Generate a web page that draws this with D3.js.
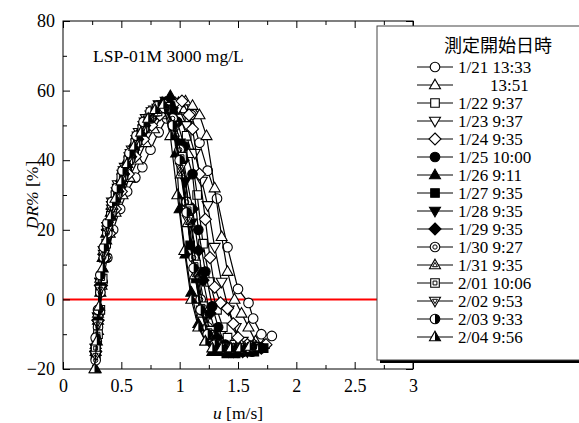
<!DOCTYPE html>
<html>
<head>
<meta charset="utf-8">
<script src="https://cdn.jsdelivr.net/npm/d3@7"></script>
<style>
  body { margin: 0; background: #fff; }
  text { font-family: "Liberation Serif", "Times New Roman", serif; fill: #000; }
</style>
</head>
<body>
<svg id="chart" width="579" height="423"></svg>
<script>
// Legend labels (measurement start date/time)
var labels = ["1/21 13:33", "13:51", "1/22 9:37", "1/23 9:37", "1/24 9:35", "1/25 10:00",
              "1/26 9:11", "1/27 9:35", "1/28 9:35", "1/29 9:35", "1/30 9:27", "1/31 9:35",
              "2/01 10:06", "2/02 9:53", "2/03 9:33", "2/04 9:56"];

// u [m/s] for each run
var uData = [
  [0.29,0.31,0.34,0.38,0.43,0.49,0.55,0.62,0.68,0.75,0.82,0.89,0.96,1.03,1.10,1.17,1.24,1.32,1.41,1.50,1.59,1.63,1.70,1.79],
  [0.28,0.30,0.33,0.36,0.40,0.45,0.51,0.57,0.64,0.71,0.78,0.85,0.92,0.99,1.05,1.11,1.17,1.23,1.30,1.36,1.41,1.47,1.53,1.59,1.65,1.72],
  [0.28,0.30,0.32,0.35,0.39,0.44,0.49,0.55,0.61,0.67,0.73,0.80,0.87,0.94,1.01,1.06,1.10,1.15,1.20,1.26,1.32,1.37,1.41,1.47,1.54,1.61],
  [0.28,0.30,0.32,0.35,0.38,0.42,0.47,0.53,0.59,0.65,0.71,0.78,0.85,0.92,0.99,1.06,1.13,1.19,1.24,1.30,1.36,1.42,1.48,1.54,1.61,1.68],
  [0.28,0.30,0.33,0.36,0.40,0.45,0.50,0.56,0.62,0.69,0.76,0.83,0.90,0.96,1.02,1.08,1.11,1.17,1.22,1.26,1.30,1.35,1.41,1.46,1.50,1.58,1.66,1.74],
  [0.28,0.30,0.32,0.35,0.38,0.42,0.47,0.52,0.58,0.64,0.70,0.76,0.82,0.87,0.92,0.98,1.04,1.11,1.16,1.22,1.28,1.33,1.39,1.46,1.54,1.62,1.70],
  [0.28,0.30,0.32,0.34,0.37,0.41,0.45,0.50,0.55,0.61,0.67,0.73,0.79,0.85,0.92,0.97,1.00,1.05,1.10,1.16,1.22,1.28,1.36,1.44,1.52,1.60],
  [0.28,0.30,0.32,0.35,0.38,0.42,0.47,0.52,0.58,0.64,0.70,0.76,0.82,0.88,0.94,1.00,1.05,1.09,1.14,1.20,1.26,1.32,1.40,1.48,1.56,1.64,1.72],
  [0.28,0.30,0.32,0.35,0.38,0.42,0.47,0.52,0.58,0.64,0.70,0.76,0.82,0.88,0.94,1.00,1.05,1.10,1.16,1.22,1.28,1.34,1.42,1.50,1.58,1.66],
  [0.28,0.30,0.32,0.35,0.38,0.42,0.47,0.52,0.58,0.64,0.70,0.76,0.82,0.88,0.93,0.96,1.03,1.11,1.16,1.20,1.26,1.32,1.38,1.46,1.54,1.62,1.70],
  [0.28,0.30,0.32,0.35,0.38,0.42,0.46,0.51,0.57,0.63,0.69,0.75,0.81,0.87,0.94,1.00,1.06,1.12,1.18,1.24,1.30,1.38,1.46,1.54,1.62],
  [0.28,0.30,0.32,0.35,0.38,0.42,0.46,0.51,0.57,0.63,0.69,0.75,0.81,0.88,0.95,1.01,1.07,1.13,1.19,1.25,1.31,1.40,1.48,1.56,1.64],
  [0.28,0.30,0.32,0.34,0.37,0.41,0.45,0.50,0.56,0.62,0.68,0.74,0.81,0.88,0.95,1.02,1.08,1.14,1.20,1.26,1.32,1.40,1.48,1.56,1.64],
  [0.28,0.30,0.32,0.35,0.38,0.42,0.46,0.51,0.57,0.63,0.69,0.75,0.81,0.88,0.95,1.01,1.07,1.13,1.19,1.25,1.31,1.39,1.47,1.55,1.63],
  [0.28,0.30,0.32,0.35,0.38,0.42,0.46,0.51,0.57,0.63,0.69,0.75,0.81,0.87,0.94,1.00,1.06,1.12,1.18,1.24,1.30,1.38,1.46,1.54,1.62],
  [0.27,0.29,0.31,0.34,0.37,0.41,0.45,0.50,0.55,0.61,0.67,0.73,0.79,0.86,0.92,0.98,1.04,1.10,1.16,1.22,1.28,1.36,1.44,1.52,1.60]
];

// DR% [%] for each run
var drData = [
  [-12,-4,5,12,20,26,31,35,38,43,48,52,54,55,53,45,37,29,15,3,-1,-5.5,-10,-10.5],
  [-15,-6,4,12,19,25,30,35,40,45,49,53,55,56.5,57,55.7,53,47,32,18,8,0,-4,-8,-12,-13],
  [-16,-7,3,12,20,27,32,37,42,47,51,54,55.5,55,52,47,42,30,16,5,-3,-8,-11,-13,-14,-14],
  [-14,-5,5,14,21,28,33,38,43,48,52,54.5,56,56.5,55,50,42,34,27,15,5,-3,-8,-12,-13,-13.5],
  [-15,-6,4,12,19,26,31,36,41,46,50,53,55,56.5,57,53,49,36,23,12,3.5,-1,-2.6,-7,-11,-13,-14,-13],
  [-15,-6,4,13,20,26,31,36,41,46,50,53,55,56,56,51,44,36,20,8,-2,-8,-13,-15,-15,-15,-14],
  [-20,-9,2,12,19,25,30,35,40,45,49,52,55,56.5,58.5,42,26,13,2,-7,-12,-15,-15,-15,-15,-14],
  [-16,-7,3,13,20,26,31,36,41,46,50,53,55,56,53,42,28,15.5,6,-2,-9,-14,-15.5,-15.5,-15,-15,-14],
  [-14,-5,5,14,21,27,32,37,42,47,51,54,56,57,54,45,34,22,8,-3,-10,-14,-15,-15,-15,-14],
  [-15,-6,4,13,20,26,31,36,41,46,50,53,55,56.5,55,51.5,40,26,14,5.5,-4,-11,-14,-15,-15,-14.5,-14],
  [-17.5,-8,2,12,19,25,30,35,40,45,49,52,54,55,52,43,28,12,0,-8,-13,-14,-14,-14,-13.5],
  [-13,-4,6,14,21,27,32,37,42,47,51,53,55,56,48,36,22,7,-4,-11,-14,-14,-14,-14,-13],
  [-14,-10,-3,6,16,24,30,35,40,45,49,52,54,55,50,41,26,10,-2,-9,-13,-14,-14,-14,-13.5],
  [-16,-7,3,13,20,26,31,36,41,46,50,53,55,55.5,50,38,23,8,-3,-10,-13,-14,-14,-14,-13.5],
  [-11,-3,7,15,22,28,32,37,42,47,51,54,55.5,55,50,40,25,9,-3,-10,-13,-14,-14,-14,-13.5],
  [-20,-12,-2,9,17,24,29,34,39,44,48,52,54.5,56,47,30,14,0,-8,-12,-14,-14,-14,-14,-13.5]
];

var xTicks = [0, 0.5, 1, 1.5, 2, 2.5, 3];
var yTicks = [-20, 0, 20, 40, 60, 80];

// marker type per run
var markers = ["circle","tri","square","dtri","diamond","fcircle","ftri","fsquare",
               "fdtri","fdiamond","ccircle","ctri","csquare","cdtri","hcircle","htri"];

var svg = d3.select("#chart");

var x = d3.scaleLinear().domain([0, 3]).range([63, 413]);
var y = d3.scaleLinear().domain([-20, 80]).range([369, 21]);

// Basic marker outlines, k scales the shape
function shape(base, k) {
  var p = d3.path();
  if (base == "circle") {
    p.moveTo(4.8 * k, 0);
    p.arc(0, 0, 4.8 * k, 0, 2 * Math.PI);
  } else if (base == "tri") {
    p.moveTo(0, -5.8 * k); p.lineTo(5.5 * k, 3.8 * k); p.lineTo(-5.5 * k, 3.8 * k); p.closePath();
  } else if (base == "dtri") {
    p.moveTo(0, 5.8 * k); p.lineTo(5.5 * k, -3.8 * k); p.lineTo(-5.5 * k, -3.8 * k); p.closePath();
  } else if (base == "square") {
    p.rect(-4.3 * k, -4.3 * k, 8.6 * k, 8.6 * k);
  } else if (base == "diamond") {
    p.moveTo(0, -6 * k); p.lineTo(6 * k, 0); p.lineTo(0, 6 * k); p.lineTo(-6 * k, 0); p.closePath();
  }
  return p.toString();
}

function drawMarker(g, type) {
  var base = type;
  if (["circle", "tri", "square", "dtri", "diamond"].indexOf(type) < 0) base = type.slice(1);
  var filled = base != type && type.charAt(0) == "f";
  g.append("path").attr("d", shape(base, 1))
    .attr("fill", filled ? "#000" : "#fff")
    .attr("stroke", "#000").attr("stroke-width", 1.1);
  if (base != type && type.charAt(0) == "c") {
    // inner outline (double marker)
    g.append("path").attr("d", shape(base, 0.45))
      .attr("fill", "#fff").attr("stroke", "#000").attr("stroke-width", 1);
  }
  if (type == "hcircle") {
    g.append("path").attr("d", "M0,-4.8A4.8,4.8 0 0 1 0,4.8Z").attr("fill", "#000");
  }
  if (type == "htri") {
    g.append("path").attr("d", "M0,-5.8L5.5,3.8L0,3.8Z").attr("fill", "#000");
  }
}

// zero line
svg.append("line")
  .attr("x1", x(0)).attr("x2", x(3))
  .attr("y1", y(0)).attr("y2", y(0))
  .attr("stroke", "#ff0000").attr("stroke-width", 2);

// axes with inward ticks
function noDomain(g) { g.select(".domain").remove(); }
function serifText(g) { g.selectAll("text").attr("font-size", 18).attr("font-family", "Liberation Serif").attr("fill", "#000"); }

svg.append("g").attr("transform", "translate(0," + y(-20) + ")")
  .call(d3.axisBottom(x).tickValues(xTicks).tickSizeInner(-7).tickSizeOuter(0).tickPadding(10)
    .tickFormat(function(d) { return d; }))
  .call(noDomain)
  .call(serifText);

svg.append("g").attr("transform", "translate(0," + y(-20) + ")")
  .call(d3.axisBottom(x).tickValues([0.25, 0.75, 1.25, 1.75, 2.25, 2.75]).tickSizeInner(-4).tickSizeOuter(0).tickFormat(""))
  .call(noDomain);

svg.append("g").attr("transform", "translate(0," + y(80) + ")")
  .call(d3.axisTop(x).tickValues(xTicks).tickSizeInner(-7).tickSizeOuter(0).tickFormat(""))
  .call(noDomain);

svg.append("g").attr("transform", "translate(0," + y(80) + ")")
  .call(d3.axisTop(x).tickValues([0.25, 0.75, 1.25, 1.75, 2.25, 2.75]).tickSizeInner(-4).tickSizeOuter(0).tickFormat(""))
  .call(noDomain);

svg.append("g").attr("transform", "translate(" + x(0) + ",0)")
  .call(d3.axisLeft(y).tickValues(yTicks).tickSizeInner(-7).tickSizeOuter(0).tickPadding(8))
  .call(noDomain)
  .call(serifText);

svg.append("g").attr("transform", "translate(" + x(0) + ",0)")
  .call(d3.axisLeft(y).tickValues([-10, 10, 30, 50, 70]).tickSizeInner(-4).tickSizeOuter(0).tickFormat(""))
  .call(noDomain);

svg.append("g").attr("transform", "translate(" + x(3) + ",0)")
  .call(d3.axisRight(y).tickValues(yTicks).tickSizeInner(-7).tickSizeOuter(0).tickFormat(""))
  .call(noDomain);

svg.append("rect")
  .attr("x", x(0)).attr("y", y(80))
  .attr("width", x(3) - x(0)).attr("height", y(-20) - y(80))
  .attr("fill", "none").attr("stroke", "#000").attr("stroke-width", 1);

// series
var line = d3.line()
  .x(function(d) { return x(d[0]); })
  .y(function(d) { return y(d[1]); });

labels.forEach(function(name, i) {
  var pts = uData[i].map(function(u, j) { return [u, drData[i][j]]; });
  var g = svg.append("g").attr("class", "series");
  g.append("path").datum(pts)
    .attr("d", line).attr("fill", "none")
    .attr("stroke", "#000").attr("stroke-width", 1.2);
  g.selectAll("g.pt").data(pts).enter().append("g")
    .attr("class", "pt")
    .attr("transform", function(d) { return "translate(" + x(d[0]) + "," + y(d[1]) + ")"; })
    .each(function() { drawMarker(d3.select(this), markers[i]); });
});

// annotation
svg.append("text").attr("x", 93).attr("y", 62)
  .attr("font-size", 17.5).text("LSP-01M 3000 mg/L");

// axis titles
var xt = svg.append("text").attr("x", (x(0) + x(3)) / 2).attr("y", 419)
  .attr("text-anchor", "middle").attr("font-size", 17.5);
xt.append("tspan").attr("font-style", "italic").text("u");
xt.append("tspan").text(" [m/s]");

var yt = svg.append("text")
  .attr("transform", "translate(38," + (y(80) + y(-20)) / 2 + ") rotate(-90)")
  .attr("text-anchor", "middle").attr("font-size", 17.5);
yt.append("tspan").attr("font-style", "italic").text("DR%");
yt.append("tspan").text(" [%]");

// legend
var lg = svg.append("g");
lg.append("rect").attr("x", 380).attr("y", 29).attr("width", 220).attr("height", 334).attr("fill", "#000");
lg.append("rect").attr("x", 377).attr("y", 26).attr("width", 220).attr("height", 334)
  .attr("fill", "#fff").attr("stroke", "#444").attr("stroke-width", 1);

lg.append("text").attr("x", 498).attr("y", 52)
  .attr("text-anchor", "middle").attr("font-size", 18)
  .style("font-family", "'Noto Sans CJK JP', 'Noto Sans CJK SC', sans-serif")
  .text("測定開始日時");

labels.forEach(function(name, i) {
  var ly = 67 + i * 18;
  var row = lg.append("g");
  row.append("line").attr("x1", 417).attr("x2", 453).attr("y1", ly).attr("y2", ly)
    .attr("stroke", "#000").attr("stroke-width", 1);
  drawMarker(row.append("g").attr("transform", "translate(435," + ly + ")"), markers[i]);
  row.append("text").attr("x", name == "13:51" ? 490 : 458).attr("y", ly).attr("dy", "0.35em")
    .attr("font-size", 17).text(name);
});
</script>
</body>
</html>
